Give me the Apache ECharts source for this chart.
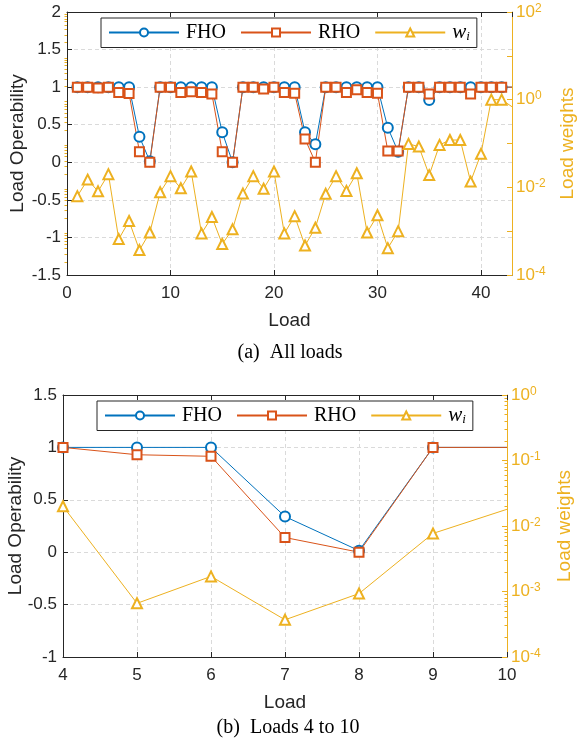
<!DOCTYPE html>
<html><head><meta charset="utf-8">
<script src="https://cdn.jsdelivr.net/npm/echarts@6.0.0/dist/echarts.min.js"></script>
<style>html,body{margin:0;padding:0;background:#fff}#c{width:577px;height:746px}</style>
</head><body><div id="c"></div>
<script>
// Load index 1..43
const loads = [1,2,3,4,5,6,7,8,9,10,11,12,13,14,15,16,17,18,19,20,21,22,23,24,25,26,27,28,29,30,31,32,33,34,35,36,37,38,39,40,41,42,43];
const fho = [1,1,1,1,1,1,0.34,0.015, 1,1,1,1,1,1,0.40,0.0, 1,1,1,1,1,1,0.40,0.24, 1,1,1,1,1,1,0.46,0.14, 1,1,0.83,1,1,1,1,1,1,1,1];
const rho = [1,1,0.99,1,0.93,0.915,0.14,0.0, 1,1,0.93,0.94,0.93,0.91,0.14,0.0, 1,1,0.975,1,0.93,0.92,0.31,0.0, 1,1,0.93,0.965,0.93,0.92,0.15,0.15, 1,1,0.91,1,1,1,0.91,1,1,1,1];
const weights = [6.3e-3,1.5e-2,8.1e-3,2.0e-2,6.6e-4,1.7e-3,3.7e-4,9.3e-4,7.7e-3,1.8e-2,
                 9.5e-3,2.3e-2,8.9e-4,2.1e-3,5.1e-4,1.1e-3,7.2e-3,1.8e-2,9.3e-3,2.3e-2,
                 8.9e-4,2.2e-3,4.7e-4,1.2e-3,7.1e-3,1.8e-2,8.3e-3,2.1e-2,9.3e-4,2.3e-3,
                 4.1e-4,1.0e-3,9.8e-2,8.5e-2,1.9e-2,9.3e-2,0.12,0.12,1.35e-2,5.8e-2,
                 1.0,1.0,0.69];
const seriesNames = ['FHO','RHO','wi'];
const xTicksTop = [0,43,10];
const xTicksBottom = [4,10,1];
const minorMantissa = [2,3,4,5,6,7,8,9];

const C_FHO = '#0072BD', C_RHO = '#D95319', C_W = '#EDB120', C_AX = '#262626';
const SANS = '"Liberation Sans", Arial, sans-serif';
const SERIF = '"Liberation Serif", "Times New Roman", serif';

function mk(arr, from, to) {
  const out = [];
  for (let i = 0; i < loads.length; i++) {
    const x = loads[i];
    if (x < from || x > to) continue;
    const d = { value: [x, arr[i]] };
    if (x === to) d.symbol = 'none';
    out.push(d);
  }
  return out;
}
function minorVals(eMin, eMax) {
  const v = [];
  for (let e = eMin; e < eMax; e++) minorMantissa.forEach(m => v.push(m * Math.pow(10, e)));
  return v;
}

const chart = echarts.init(document.getElementById('c'), null, {renderer: 'canvas'});

function xAx(gi, mn, mx, iv, pos) {
  const top = pos === 'top';
  return {
    type: 'value', gridIndex: gi, min: mn, max: mx, interval: iv, position: pos,
    name: top ? '' : 'Load', nameLocation: 'middle', nameGap: 36, nameMoveOverlap: false,
    nameTextStyle: {fontFamily: SANS, fontSize: 19, color: C_AX},
    axisLine: {show: true, onZero: false, lineStyle: {color: C_AX, width: 1}},
    axisTick: {show: true, inside: true, length: 5, lineStyle: {color: C_AX}},
    axisLabel: {show: !top, color: C_AX, fontFamily: SANS, fontSize: 17, margin: 10,
      showMaxLabel: mn === 4, formatter: v => (v % iv === 0) ? String(v) : ''},
    splitLine: {show: !top, lineStyle: {color: '#dadada', type: [4, 3], width: 1}}
  };
}
function yLeft(gi, mn, mx, gap) {
  return {
    type: 'value', gridIndex: gi, min: mn, max: mx, interval: 0.5, position: 'left',
    name: 'Load Operability', nameLocation: 'middle', nameRotate: 90, nameGap: gap, nameMoveOverlap: false,
    nameTextStyle: {fontFamily: SANS, fontSize: 19, color: C_AX},
    axisLine: {show: true, onZero: false, lineStyle: {color: C_AX, width: 1}},
    axisTick: {show: true, inside: true, length: 5, lineStyle: {color: C_AX}},
    axisLabel: {color: C_AX, fontFamily: SANS, fontSize: 17, margin: 6,
      formatter: v => String(v)},
    splitLine: {show: true, lineStyle: {color: '#dadada', type: [4, 3], width: 1}}
  };
}
function yRight(gi, mn, mx, split, every, gap) {
  return {
    type: 'log', logBase: 10, gridIndex: gi, min: mn, max: mx, splitNumber: split, position: 'right',
    name: 'Load weights', nameLocation: 'middle', nameRotate: 90, nameGap: gap, nameMoveOverlap: false,
    nameTextStyle: {fontFamily: SANS, fontSize: 19, color: C_W},
    axisLine: {show: true, onZero: false, lineStyle: {color: C_W, width: 1}},
    axisTick: {show: true, inside: true, length: 5, lineStyle: {color: C_W}},
    axisLabel: {color: C_W, fontFamily: SANS, margin: 4,
      formatter: v => { const e = Math.round(Math.log10(v)); return (e % every === 0) ? '{b|10}{s|' + e + '}' : ''; },
      rich: {b: {fontSize: 17, fontFamily: SANS, color: C_W},
             s: {fontSize: 12, fontFamily: SANS, color: C_W, verticalAlign: 'top', padding: [0,0,7,0]}}},
    splitLine: {show: false}
  };
}
function yRightMinor(gi, mn, mx, eMin, eMax) {
  return {
    type: 'log', logBase: 10, gridIndex: gi, min: mn, max: mx, position: 'right',
    axisLine: {show: false}, splitLine: {show: false},
    axisLabel: {show: false},
    axisTick: {show: true, inside: true, length: 2.5, customValues: minorVals(eMin, eMax), lineStyle: {color: C_W}}
  };
}

function ser(xi, yi, name, arr, from, to, sym, col, size) {
  return {
    type: 'line', name: name, xAxisIndex: xi, yAxisIndex: yi,
    data: mk(arr, from, to), symbol: sym, symbolSize: size, showAllSymbol: true,
    lineStyle: {color: col, width: 1}, itemStyle: {color: col, borderColor: col, borderWidth: 1.1},
    emphasis: {disabled: true}, animation: false, clip: true
  };
}

function legend(left, top) {
  return {
    left: left, top: top, data: seriesNames, orient: 'horizontal',
    itemWidth: 70, itemHeight: 10, itemGap: 14, padding: [4, 7, 4, 7],
    borderColor: C_AX, borderWidth: 1, backgroundColor: '#fff',
    selectedMode: false,
    formatter: n => n === 'wi' ? '{w|w}{s|i}' : n,
    textStyle: {fontFamily: SERIF, fontSize: 20, color: '#000', padding: [0,0,0,2],
      rich: {w: {fontFamily: SERIF, fontStyle: 'italic', fontSize: 21, color: '#000'},
             s: {fontFamily: SERIF, fontStyle: 'italic', fontSize: 13, color: '#000', verticalAlign: 'bottom', padding: [9,0,0,0]}}}
  };
}

const option = {
  backgroundColor: '#fff',
  animation: false,
  grid: [
    {left: 67, top: 12, width: 445, height: 263, show: false, containLabel: false, outerBoundsMode: 'none'},
    {left: 63, top: 395, width: 444, height: 262, show: false, containLabel: false, outerBoundsMode: 'none'}
  ],
  xAxis: [
    xAx(0, xTicksTop[0], xTicksTop[1], xTicksTop[2], 'bottom'),
    xAx(0, xTicksTop[0], xTicksTop[1], xTicksTop[2], 'top'),
    xAx(1, xTicksBottom[0], xTicksBottom[1], xTicksBottom[2], 'bottom'),
    xAx(1, xTicksBottom[0], xTicksBottom[1], xTicksBottom[2], 'top')
  ],
  yAxis: [
    yLeft(0, -1.5, 2, 40),
    yRight(0, 1e-4, 1e2, 6, 2, 46),
    yLeft(1, -1, 1.5, 38),
    yRight(1, 1e-4, 1, 4, 1, 48),
    yRightMinor(0, 1e-4, 1e2, -4, 2),
    yRightMinor(1, 1e-4, 1, -4, 0)
  ],
  legend: [legend(101, 18), legend(97, 401)],
  series: [
    ser(0, 0, 'FHO', fho, 1, 43, 'emptyCircle', C_FHO, 10),
    ser(0, 0, 'RHO', rho, 1, 43, 'emptyRect', C_RHO, 9),
    ser(0, 1, 'wi', weights, 1, 43, 'emptyTriangle', C_W, 10),
    ser(2, 2, 'FHO', fho, 4, 10, 'emptyCircle', C_FHO, 10),
    ser(2, 2, 'RHO', rho, 4, 10, 'emptyRect', C_RHO, 9),
    ser(2, 3, 'wi', weights, 4, 10, 'emptyTriangle', C_W, 10)
  ],
  graphic: [
    {type: 'text', x: 290, y: 353, style: {text: '(a)  All loads', font: '20px "Liberation Serif"', fill: '#000', textAlign: 'center', textVerticalAlign: 'middle'}},
    {type: 'text', x: 288, y: 728, style: {text: '(b)  Loads 4 to 10', font: '20px "Liberation Serif"', fill: '#000', textAlign: 'center', textVerticalAlign: 'middle'}}
  ]
};
chart.setOption(option);
</script>
</body></html>
